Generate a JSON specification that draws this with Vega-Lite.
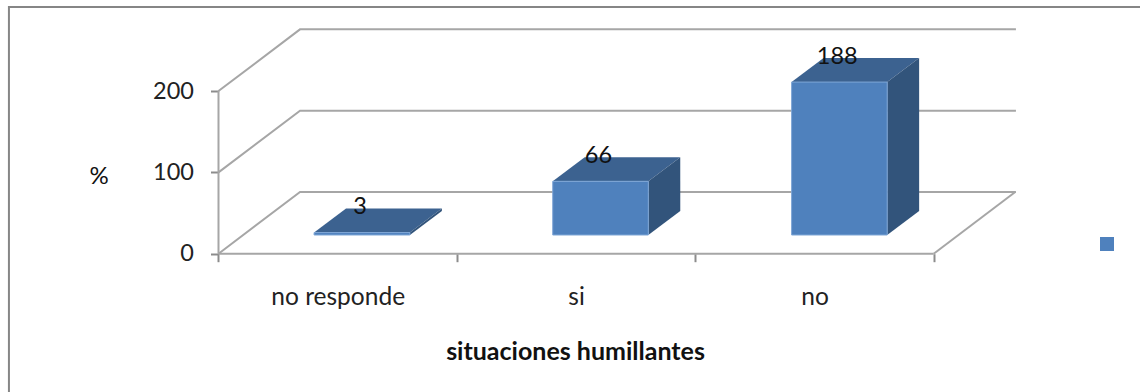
{"$schema":"https://vega.github.io/schema/vega-lite/v6.json","width":1140,"height":392,"autosize":{"type":"none"},"padding":0,"background":"white","config":{"view":{"stroke":null},"font":"Lato"},
"datasets":{
"frame":[{"fx":-0.879,"fy":-170},{"fx":-0.879,"fy":303.3},{"fx":3.8654,"fy":303.3}],
"grid":[
{"line":"g0","gx":0,"gy":0},{"line":"g0","gx":0.342,"gy":75.8},{"line":"g0","gx":3.345,"gy":75.8},
{"line":"g100","gx":0,"gy":100},{"line":"g100","gx":0.342,"gy":175.8},{"line":"g100","gx":3.345,"gy":175.8},
{"line":"g200","gx":0,"gy":200},{"line":"g200","gx":0.342,"gy":275.8},{"line":"g200","gx":3.345,"gy":275.8},
{"line":"floor","gx":3,"gy":0},{"line":"floor","gx":3.342,"gy":75.8},
{"line":"xaxis","gx":0,"gy":0},{"line":"xaxis","gx":3,"gy":0},
{"line":"yaxis","gx":0,"gy":0},{"line":"yaxis","gx":0,"gy":200}],
"front":[
{"cat":"no responde","value":3,"x0":0.401,"x1":0.803,"mid":0.602,"base":23,"top":26,"serie":"1"},
{"cat":"si","value":66,"x0":1.402,"x1":1.803,"mid":1.602,"base":23,"top":89,"serie":"1"},
{"cat":"no","value":188,"x0":2.404,"x1":2.805,"mid":2.604,"base":23,"top":211,"serie":"1"}],
"topFace":[
{"cat":"no responde","ty":26,"tx":0.401,"tx2":0.803},{"cat":"no responde","ty":55.5,"tx":0.535,"tx2":0.937},
{"cat":"si","ty":89,"tx":1.402,"tx2":1.803},{"cat":"si","ty":118.5,"tx":1.536,"tx2":1.937},
{"cat":"no","ty":211,"tx":2.404,"tx2":2.805},{"cat":"no","ty":240.5,"tx":2.538,"tx2":2.939}],
"sideFace":[
{"cat":"no responde","sx":0.803,"sy":26,"sy2":23},{"cat":"no responde","sx":0.937,"sy":55.5,"sy2":52.5},
{"cat":"si","sx":1.803,"sy":89,"sy2":23},{"cat":"si","sx":1.937,"sy":118.5,"sy2":52.5},
{"cat":"no","sx":2.805,"sy":211,"sy2":23},{"cat":"no","sx":2.939,"sy":240.5,"sy2":52.5}]
},
"layer":[
{"data":{"name":"frame"},"mark":{"type":"line","color":"#868686","strokeWidth":2,"clip":false},
"encoding":{"x":{"field":"fx","type":"quantitative","scale":{"domain":[-0.9165,3.8654],"nice":false,"zero":false},
"axis":{"title":"situaciones humillantes","titleFont":"Lato","titleFontSize":25,"titleFontWeight":"bold","titleColor":"#111111","titleX":575,"titleY":86,"values":[0,0.5,1,1.5,2,2.5,3],"format":".1f","labelExpr":"datum.value==0.5?'no responde':datum.value==1.5?'si':datum.value==2.5?'no':''","labelFontSize":24.5,"labelColor":"#222222","labelPadding":24,"labelOverlap":false,"labelFlush":false,"domain":false,"grid":false,"tickSize":8,"tickWidth":2,"tickColor":"#8c8c8c","tickOpacity":{"condition":{"test":"datum.value==0||datum.value==1||datum.value==2||datum.value==3","value":1},"value":0},"offset":-138.3}},
"y":{"field":"fy","type":"quantitative","scale":{"domain":[-170,311.9],"nice":false,"zero":false},
"axis":{"title":"%","titleAngle":0,"titleFont":"Lato","titleFontSize":24,"titleFontWeight":"normal","titleColor":"#111111","titleX":-120,"titleY":176,"titleAlign":"center","titleBaseline":"middle","values":[0,100,200],"labelFontSize":23.5,"labelColor":"#222222","labelPadding":17,"domain":false,"grid":false,"tickSize":8,"tickWidth":2,"tickColor":"#8c8c8c","offset":-218.5}}}},
{"data":{"name":"grid"},"mark":{"type":"line","color":"#a6a6a6","strokeWidth":2},
"encoding":{"x":{"field":"gx","type":"quantitative"},"y":{"field":"gy","type":"quantitative"},"detail":{"field":"line"},"order":{"value":0}}},
{"data":{"name":"topFace"},"mark":{"type":"area","orient":"horizontal","color":"#3c6290"},
"encoding":{"y":{"field":"ty","type":"quantitative"},"x":{"field":"tx","type":"quantitative"},"x2":{"field":"tx2"},"detail":{"field":"cat"}}},
{"data":{"name":"sideFace"},"mark":{"type":"area","orient":"vertical","color":"#32547b"},
"encoding":{"x":{"field":"sx","type":"quantitative"},"y":{"field":"sy","type":"quantitative"},"y2":{"field":"sy2"},"detail":{"field":"cat"}}},
{"data":{"name":"front"},"mark":{"type":"rect","stroke":"#7fa6d6","strokeWidth":1},
"encoding":{"x":{"field":"x0","type":"quantitative"},"x2":{"field":"x1"},"y":{"field":"base","type":"quantitative"},"y2":{"field":"top"},
"color":{"field":"serie","type":"nominal","scale":{"range":["#4f81bd"]},"legend":{"orient":"none","legendX":1100,"legendY":237,"title":null,"labelExpr":"''","symbolType":"square","symbolSize":196,"symbolStrokeWidth":0,"symbolOpacity":1,"padding":0}}}},
{"data":{"name":"front"},"mark":{"type":"text","fontSize":23.5,"color":"#111111","dy":-25.5,"dx":-2,"baseline":"middle","align":"center"},
"encoding":{"x":{"field":"mid","type":"quantitative"},"y":{"field":"top","type":"quantitative"},"text":{"field":"value","type":"quantitative"}}}
],
"resolve":{"scale":{"color":"independent"}}
}
